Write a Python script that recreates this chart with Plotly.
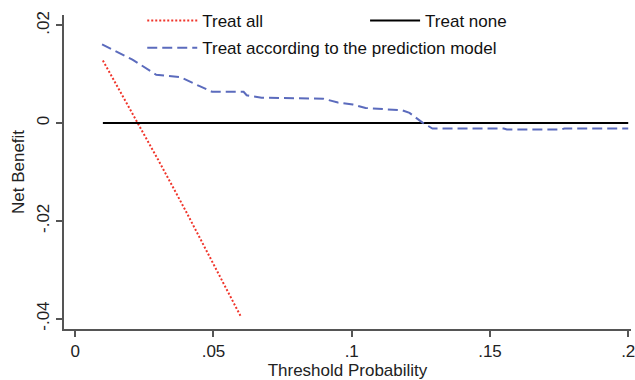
import plotly.graph_objects as go

# Threshold probabilities and net benefit values
treat_all_x = [0.01, 0.02, 0.03, 0.04, 0.05, 0.06]
treat_all_y = [0.0128, 0.0028, -0.0075, -0.0180, -0.0287, -0.0397]

treat_none_x = [0.01, 0.20]
treat_none_y = [0.0, 0.0]

model_x = [0.0097, 0.0207, 0.0293, 0.0380, 0.0452, 0.0495, 0.0609, 0.0620, 0.0674,
           0.0897, 0.0950, 0.1004, 0.1050, 0.1184, 0.1209, 0.1256, 0.1292, 0.1550,
           0.1561, 0.1758, 0.1769, 0.2000]
model_y = [0.0161, 0.0130, 0.0099, 0.0094, 0.0075, 0.0064, 0.0064, 0.0057, 0.0052,
           0.0050, 0.0042, 0.0038, 0.0031, 0.0026, 0.0021, 0.0001, -0.0011, -0.0011,
           -0.0013, -0.0013, -0.0011, -0.0011]

x_ticks = [0, 0.05, 0.1, 0.15, 0.2]
x_tick_labels = ["0", ".05", ".1", ".15", ".2"]
y_ticks = [0.02, 0, -0.02, -0.04]
y_tick_labels = [".02", "0", "-.02", "-.04"]

FONT = "Liberation Sans, Arial, sans-serif"
AXIS = "#555555"

fig = go.Figure()
fig.add_trace(go.Scatter(x=treat_all_x, y=treat_all_y, mode="lines", name="Treat all",
                         legend="legend", legendgroup="a",
                         line=dict(color="#f0352b", width=2, dash="2px,2px")))
fig.add_trace(go.Scatter(x=treat_none_x, y=treat_none_y, mode="lines", name="Treat none",
                         legend="legend2", legendgroup="b",
                         line=dict(color="#000000", width=2)))
fig.add_trace(go.Scatter(x=model_x, y=model_y, mode="lines",
                         name="Treat according to the prediction model",
                         legend="legend", legendgroup="c",
                         line=dict(color="#5b6bbd", width=2, dash="10px,5px")))

legend_common = dict(orientation="v", xanchor="left", yanchor="top", y=1.038,
                     itemwidth=50, bgcolor="rgba(0,0,0,0)", borderwidth=0,
                     font=dict(family=FONT, size=17, color="#111111"), tracegroupgap=2)

fig.update_layout(
    width=635, height=380,
    margin=dict(l=64, r=0, t=15, b=51),
    paper_bgcolor="white", plot_bgcolor="white",
    font=dict(family=FONT, size=17, color="#222222"),
    legend=dict(x=0.138, **legend_common),
    legend2=dict(x=0.531, **legend_common),
    xaxis=dict(range=[-0.00406, 0.2010], tickvals=x_ticks, ticktext=x_tick_labels,
               ticklabeloverflow="allow",
               showgrid=False, zeroline=False, showline=True, linecolor=AXIS, linewidth=1.5,
               ticks="outside", ticklen=6, tickcolor=AXIS, tickwidth=1.5,
               title=dict(text="Threshold Probability", standoff=4,
                          font=dict(size=17, color="#222222"))),
    yaxis=dict(range=[-0.04212, 0.02212], tickvals=y_ticks, ticktext=y_tick_labels,
               showgrid=False, zeroline=False, showline=True, linecolor=AXIS, linewidth=1.5,
               ticks="outside", ticklen=6, tickcolor=AXIS, tickwidth=1.5, tickangle=-90,
               title=dict(text="Net Benefit", standoff=6,
                          font=dict(size=17, color="#222222"))),
)

fig.write_html("out.html", config={"displayModeBar": False},
               post_script="document.body.style.margin='0';document.body.style.overflow='hidden';")
